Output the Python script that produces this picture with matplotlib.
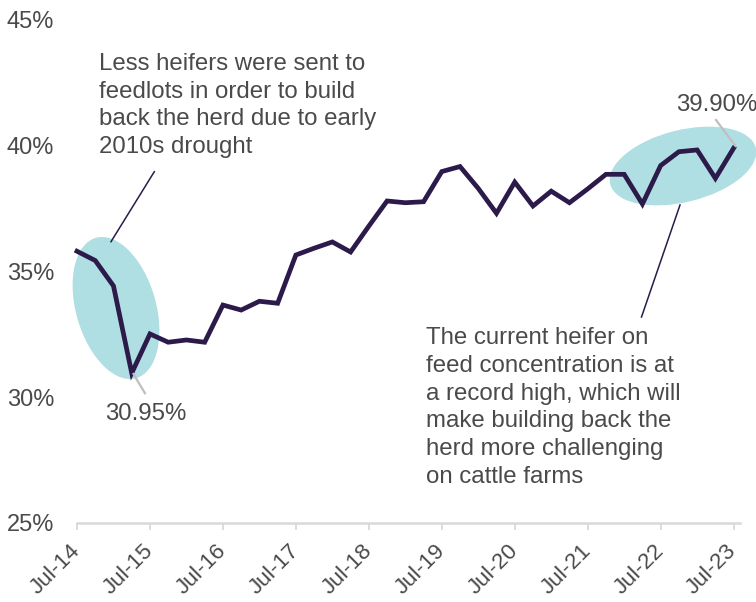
import matplotlib
matplotlib.use("Agg")
import matplotlib.pyplot as plt
from matplotlib.patches import Ellipse
from matplotlib.lines import Line2D

# ---- data ----
tick_labels = ["Jul-14", "Jul-15", "Jul-16", "Jul-17", "Jul-18",
               "Jul-19", "Jul-20", "Jul-21", "Jul-22", "Jul-23"]
heifer_share = [35.80, 35.43, 34.42, 30.95, 32.51, 32.18, 32.27, 32.18,
                33.66, 33.46, 33.81, 33.73, 35.65, 35.92, 36.17, 35.77,
                36.80, 37.80, 37.73, 37.77, 38.97, 39.17, 38.30, 37.31,
                38.55, 37.60, 38.19, 37.73, 38.28, 38.86, 38.86, 37.68,
                39.21, 39.76, 39.83, 38.70, 39.90]
y_ticks = [25, 30, 35, 40, 45]
note_left = "Less heifers were sent to\nfeedlots in order to build\nback the herd due to early\n2010s drought"
note_right = ("The current heifer on\nfeed concentration is at\na record high, which will\n"
              "make building back the\nherd more challenging\non cattle farms")

W, H = 756, 602
plt.rcParams['font.family'] = ['Liberation Sans', 'DejaVu Sans']
TXT = '#4a4a4a'
LINE = '#2b1a4a'
TEAL = '#b0dfe3'
GREY = '#bfbfbf'
FS = 17.3

fig = plt.figure(figsize=(W / 100, H / 100), dpi=100)
ax = fig.add_axes([77 / W, 1 - 522.7 / H, (740 - 77) / W, (522.7 - 20) / H])

def px(x, y):
    return (x / 100, (H - y) / 100)

T = fig.dpi_scale_trans

# ellipses (highlight areas)
e1 = Ellipse(px(116, 308), width=0.80, height=1.46, angle=16,
             facecolor=TEAL, edgecolor='none', transform=T, zorder=1, clip_on=False)
e2 = Ellipse(px(683, 166), width=1.50, height=0.72, angle=14,
             facecolor=TEAL, edgecolor='none', transform=T, zorder=1, clip_on=False)
ax.add_patch(e1)
ax.add_patch(e2)

x = list(range(len(heifer_share)))
ax.plot(x, heifer_share, color=LINE, lw=3.4, solid_joinstyle='miter', zorder=3, clip_on=False)

ax.set_xlim(0, 36.35)
ax.set_ylim(25, 45)
ax.set_xticks(list(range(0, 37, 4)))
ax.set_xticklabels(tick_labels, rotation=45, ha='right', va='center',
                   rotation_mode='anchor', fontsize=16.2, color=TXT)
ax.set_yticks(y_ticks)
ax.set_yticklabels([f"{v}%" for v in y_ticks], fontsize=17, color=TXT)

for s in ['top', 'right', 'left']:
    ax.spines[s].set_visible(False)
ax.spines['bottom'].set_color('#d9d9d9')
ax.spines['bottom'].set_linewidth(1.8)
ax.tick_params(axis='y', length=0, pad=16.5)
ax.tick_params(axis='x', length=5, width=1.3, color='#d9d9d9', pad=13)
ax.patch.set_alpha(0)

# leader lines
def seg(p, q, **kw):
    a, b = px(*p), px(*q)
    fig.add_artist(Line2D([a[0], b[0]], [a[1], b[1]], transform=T, **kw))

seg((154.3, 171.7), (111, 241.7), color=LINE, lw=1.1)
seg((680, 205), (641.5, 317), color=LINE, lw=1.1)
seg((133.5, 374), (145, 393.3), color=GREY, lw=1.6)
seg((716, 120), (735.5, 146), color=GREY, lw=1.6)

# texts
fig.text(*px(99.3, 53.0), note_left, transform=T, ha='left', va='top',
         fontsize=FS, color=TXT, linespacing=1.33)
fig.text(*px(426, 327.5), note_right, transform=T, ha='left', va='top',
         fontsize=FS, color=TXT, linespacing=1.33)
fig.text(*px(105, 420), f"{min(heifer_share):.2f}%", transform=T, ha='left',
         va='baseline', fontsize=FS, color=TXT)
fig.text(*px(676, 110.7), f"{heifer_share[-1]:.2f}%", transform=T, ha='left',
         va='baseline', fontsize=FS, color=TXT)

fig.savefig("out.png", dpi=100)
